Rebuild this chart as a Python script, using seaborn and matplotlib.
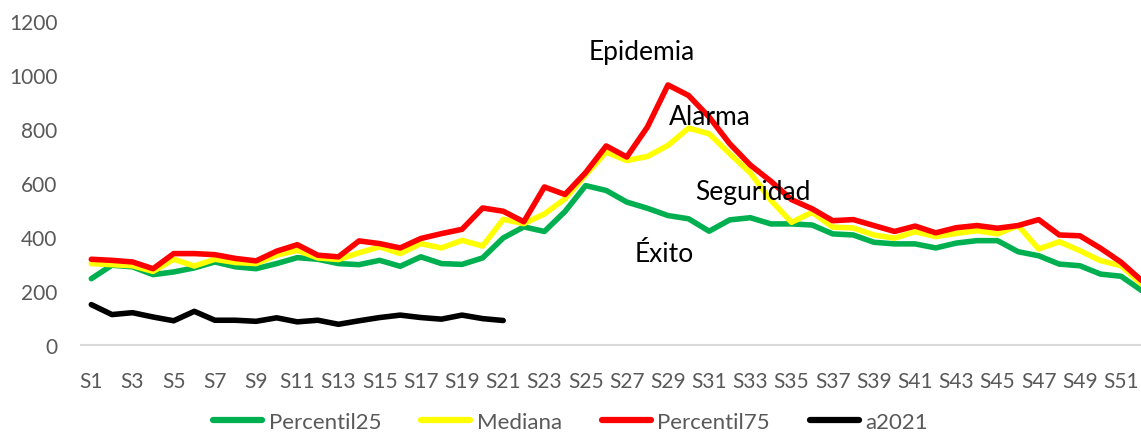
import pandas as pd
import seaborn as sns
import matplotlib.pyplot as plt

weeks = [f"S{i}" for i in range(1, 53)]

percentil25 = [244, 294, 288, 259, 269, 284, 306, 288, 281, 300,
               322, 316, 300, 296, 312, 290, 325, 300, 297, 321,
               395, 436, 419, 493, 589, 571, 528, 505, 478, 466,
               420, 462, 470, 447, 447, 443, 410, 406, 379, 373,
               373, 358, 376, 385, 385, 344, 329, 298, 292, 261,
               253, 200]
mediana = [300, 296, 292, 271, 316, 291, 316, 304, 300, 331,
           349, 321, 315, 340, 362, 337, 374, 358, 386, 365,
           464, 448, 484, 540, 629, 713, 682, 697, 738, 802,
           781, 707, 636, 534, 453, 490, 435, 432, 406, 394,
           418, 400, 412, 422, 410, 441, 354, 381, 348, 311,
           292, 224]
percentil75 = [316, 312, 306, 281, 337, 337, 333, 319, 310, 346,
               370, 331, 325, 384, 374, 358, 393, 411, 427, 506,
               494, 455, 584, 556, 637, 736, 695, 806, 962, 923,
               843, 744, 665, 605, 537, 503, 459, 463, 441, 419,
               439, 414, 433, 441, 431, 441, 463, 406, 403, 357,
               305, 237]
a2021 = [148, 111, 118, 102, 88, 123, 90, 90, 86, 99,
         84, 90, 75, 88, 100, 109, 100, 94, 109, 96, 89]

series_names = ["Percentil25", "Mediana", "Percentil75", "a2021"]
colors = ["#00B050", "#FFFF00", "#FF0000", "#000000"]

# etiquetas de zona: (texto, posicion semana, valor)
zone_labels = [("Epidemia", 26.75, 1086),
               ("Alarma", 30.05, 844),
               ("Seguridad", 32.1, 566),
               ("Éxito", 27.8, 336)]


def build_df():
    rows = []
    for name, vals in zip(series_names, [percentil25, mediana, percentil75, a2021]):
        for i, v in enumerate(vals):
            rows.append({"semana": i, "valor": v, "serie": name})
    return pd.DataFrame(rows)


def main():
    sns.set_theme(style="white")
    plt.rcParams["font.family"] = ["Lato", "DejaVu Sans"]

    df = build_df()
    fig = plt.figure(figsize=(11.41, 4.35), dpi=100)
    ax = fig.add_axes([0.071, 0.2057, 1.0096 - 0.071, 0.950 - 0.2057])

    sns.lineplot(data=df, x="semana", y="valor", hue="serie",
                 hue_order=series_names, palette=colors, linewidth=4,
                 ax=ax, legend=False)

    for txt, x, y in zone_labels:
        ax.text(x, y, txt, ha="center", va="center", fontsize=19, color="black")

    ax.set_xlim(-0.5, 51.5)
    ax.set_ylim(0, 1200)
    ax.set_yticks(range(0, 1201, 200))
    ax.set_xticks(range(0, 52, 2))
    ax.set_xticklabels(weeks[::2])
    ax.set_xlabel("")
    ax.set_ylabel("")
    ax.tick_params(axis="both", length=0, labelsize=15, colors="#595959")
    ax.tick_params(axis="x", pad=19)
    ax.tick_params(axis="y", pad=17)

    for side in ["left", "right", "top"]:
        ax.spines[side].set_visible(False)
    ax.spines["bottom"].set_color("#d9d9d9")
    ax.spines["bottom"].set_linewidth(1.5)

    handles = [plt.Line2D([], [], color=c, linewidth=4.5) for c in colors]
    fig.legend(handles, series_names, loc="center", bbox_to_anchor=(0.5, 0.027),
               ncol=4, frameon=False, fontsize=16, handlelength=2.2,
               handletextpad=0.3, columnspacing=1.8, labelcolor="#595959")

    plt.savefig("out.png", dpi=100)
    plt.close()


if __name__ == "__main__":
    main()
